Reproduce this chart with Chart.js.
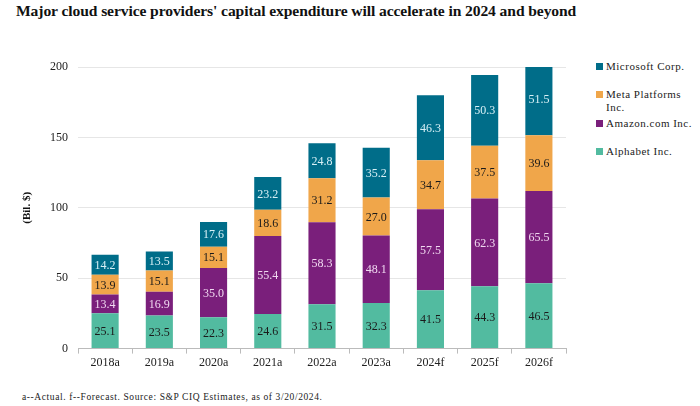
<!DOCTYPE html>
<html><head><meta charset="utf-8">
<script src="https://cdn.jsdelivr.net/npm/chart.js@4.4.1/dist/chart.umd.min.js"></script>
<style>
html,body{margin:0;padding:0;background:#fff;width:700px;height:406px;overflow:hidden;font-family:"Liberation Serif",serif;}
#title{position:absolute;left:16px;top:2px;font-size:15.6px;font-weight:bold;color:#111;letter-spacing:-0.1px;}
#wrap{position:absolute;left:0;top:40px;width:580px;height:332px;}
#foot{position:absolute;left:22px;top:392px;font-size:9.5px;color:#222;letter-spacing:0.6px;}
#legend{position:absolute;left:596px;top:60px;font-size:11px;color:#222;letter-spacing:0.5px;}
.li{position:relative;padding-left:10px;line-height:13px;}
.sw{position:absolute;left:0;top:3px;width:7px;height:7px;}
</style></head><body>
<div id="title">Major cloud service providers' capital expenditure will accelerate in 2024 and beyond</div>
<div id="wrap"><canvas id="c"></canvas></div>
<div id="legend"></div>
<div id="foot">a--Actual. f--Forecast. Source: S&amp;P CIQ Estimates, as of 3/20/2024.</div>
<script>
const categories = ["2018a","2019a","2020a","2021a","2022a","2023a","2024f","2025f","2026f"];
const alphabet  = [25.1,23.5,22.3,24.6,31.5,32.3,41.5,44.3,46.5];
const amazon    = [13.4,16.9,35.0,55.4,58.3,48.1,57.5,62.3,65.5];
const meta      = [13.9,15.1,15.1,18.6,31.2,27.0,34.7,37.5,39.6];
const microsoft = [14.2,13.5,17.6,23.2,24.8,35.2,46.3,50.3,51.5];
const yTicks = [0,50,100,150,200];

const series = [
  {label:"Alphabet Inc.", data:alphabet, color:"#52BBA0", text:"#1a1a1a"},
  {label:"Amazon.com Inc.", data:amazon, color:"#7A1F7B", text:"#f0d8f0"},
  {label:"Meta Platforms Inc.", data:meta, color:"#F0A64A", text:"#1a1a1a"},
  {label:"Microsoft Corp.", data:microsoft, color:"#006D89", text:"#d8f0f6"}
];

const legendOrder = [
  {name:"Microsoft Corp.", color:"#006D89", gap:15},
  {name:"Meta Platforms<br>Inc.", color:"#F0A64A", gap:3},
  {name:"Amazon.com Inc.", color:"#7A1F7B", gap:15},
  {name:"Alphabet Inc.", color:"#52BBA0", gap:0}
];
document.getElementById('legend').innerHTML = legendOrder.map(l =>
  `<div class="li" style="margin-bottom:${l.gap}px"><span class="sw" style="background:${l.color}"></span>${l.name}</div>`).join('');

const labelPlugin = {
  id:'segLabels',
  afterDatasetsDraw(chart){
    const ctx = chart.ctx;
    ctx.save();
    ctx.font = '12px "Liberation Serif", serif';
    ctx.textAlign='center'; ctx.textBaseline='middle';
    chart.data.datasets.forEach((ds,i)=>{
      const meta = chart.getDatasetMeta(i);
      meta.data.forEach((bar,j)=>{
        const v = ds.data[j];
        const y = (bar.y + bar.base)/2;
        ctx.fillStyle = series[i].text;
        ctx.fillText(v.toFixed(1), bar.x, y+1);
      });
    });
    ctx.restore();
  }
};

const yTitle = {
  id:'yTitle',
  afterDraw(chart){
    const ctx = chart.ctx;
    ctx.save();
    ctx.font = 'bold 11px "Liberation Serif", serif';
    ctx.fillStyle='#111';
    ctx.translate(27, (chart.chartArea.top+chart.chartArea.bottom)/2);
    ctx.rotate(-Math.PI/2);
    ctx.textAlign='center'; ctx.textBaseline='middle';
    ctx.fillText('(Bil. $)',0,0);
    ctx.restore();
  }
};

new Chart(document.getElementById('c'), {
  type:'bar',
  data:{
    labels:categories,
    datasets: series.map(s=>({label:s.label,data:s.data,backgroundColor:s.color,borderWidth:0,
      categoryPercentage:1.0,barPercentage:0.5}))
  },
  options:{
    responsive:true, maintainAspectRatio:false, animation:false,
    layout:{padding:{left:40,right:14,top:27,bottom:0}},
    plugins:{legend:{display:false},tooltip:{enabled:false}},
    scales:{
      x:{stacked:true,
        grid:{display:true,drawOnChartArea:false,offset:true,tickLength:5,color:'#bbb'},
        border:{display:true,color:'#bbb'},
        ticks:{color:'#222',padding:2,font:{family:'"Liberation Serif", serif',size:12}}},
      y:{stacked:true,min:0,max:200,
        afterBuildTicks(axis){axis.ticks = yTicks.map(v=>({value:v}));},
        grid:{color:'#e6e6e6',tickLength:10,drawTicks:false},
        border:{display:false},
        ticks:{color:'#222',padding:10,font:{family:'"Liberation Serif", serif',size:12}}}
    }
  },
  plugins:[labelPlugin,yTitle]
});
</script>
</body></html>
